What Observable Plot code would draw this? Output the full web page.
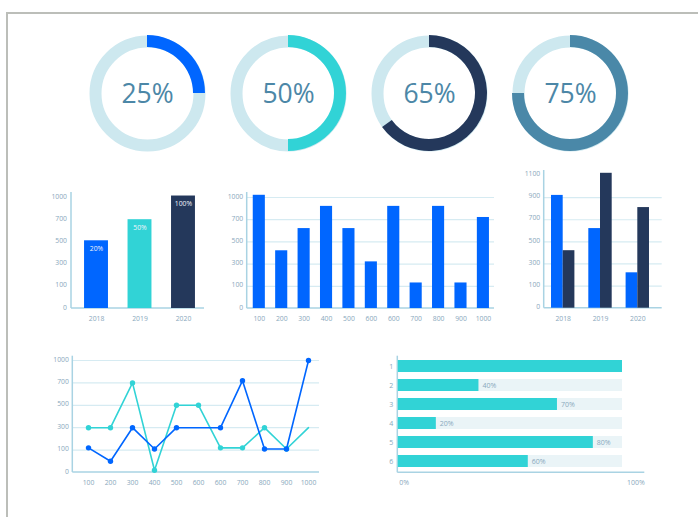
<!DOCTYPE html>
<html>
<head>
<meta charset="utf-8">
<script src="https://cdn.jsdelivr.net/npm/d3@7"></script>
<script src="https://cdn.jsdelivr.net/npm/@observablehq/plot@0.6"></script>
<style>
html, body { margin: 0; padding: 0; background: #fff; width: 698px; height: 517px; overflow: hidden; }
#page { position: relative; width: 698px; height: 517px; }
#border { position: absolute; left: 6px; top: 12px; width: 800px; height: 600px; border-top: 2.5px solid #bcbeb9; border-left: 2.5px solid #bcbeb9; }
.chart { position: absolute; }
.chart svg { display: block; }
</style>
</head>
<body>
<div id="page"><div id="border"></div></div>
<script>
// ---------------- data ----------------
const donutValues = [25, 50, 65, 75];

const yearLabels = ["2018", "2019", "2020"];
const yearValues = [510, 700, 1020];
const yearBarLabels = ["20%", "50%", "100%"];

const yTicks = [0, 100, 300, 500, 700, 1000];

const colLabels = ["100", "200", "300", "400", "500", "600", "600", "700", "800", "900", "1000"];
const colValues = [1030, 420, 620, 880, 620, 320, 880, 130, 880, 130, 730];

const groupYears = ["2018", "2019", "2020"];
const groupTicks = [0, 100, 300, 500, 700, 900, 1100];
const seriesBlue = [920, 620, 220];
const seriesNavy = [420, 1120, 810];

const lineXLabels = ["100", "200", "300", "400", "500", "600", "600", "700", "800", "900", "1000"];
const lineBlue = [120, 50, 300, 110, 300, 300, 300, 730, 110, 110, 1000];
const lineTeal = [300, 300, 700, 10, 500, 500, 120, 120, 300, 110, 300];
const blueHiddenDots = [5];
const tealHiddenDots = [10];

const hbarRows = ["1", "2", "3", "4", "5", "6"];
const hbarValues = [100, 36, 71, 17, 87, 58];
const hbarLabels = ["", "40%", "70%", "20%", "80%", "60%"];
const hbarMax = 100;
const hbarAxisLabels = ["0%", "100%"];

// ---------------- styles ----------------
const BLUE = "#0066ff", TEAL = "#31d3d6", NAVY = "#24385b", STEEL = "#4a88a8";
const AX = "#a9d3e3", GRID = "#d6ebf2", LBL = "#89a8bc";
const FONT = "'Open Sans', 'Noto Sans', sans-serif";
const baseStyle = { background: "transparent", color: LBL, fontFamily: FONT, fontSize: "7px", overflow: "visible" };

// The value axes have evenly spaced, non-uniform tick values: map values piecewise onto tick slots.
const slot = ticks => d3.scaleLinear().domain(ticks).range(d3.range(ticks.length));

const leftAxis = (index, scales, values, d) =>
  d3.create("svg:line")
    .attr("x1", d.marginLeft).attr("x2", d.marginLeft)
    .attr("y1", d.marginTop).attr("y2", d.height - d.marginBottom)
    .attr("stroke", AX).attr("stroke-width", 1.5).node();
const bottomAxis = (index, scales, values, d) =>
  d3.create("svg:line")
    .attr("x1", d.marginLeft).attr("x2", d.width - d.marginRight)
    .attr("y1", d.height - d.marginBottom).attr("y2", d.height - d.marginBottom)
    .attr("stroke", AX).attr("stroke-width", 1.5).node();

function place(svg, left, top, width) {
  const div = document.createElement("div");
  div.className = "chart";
  div.style.left = left + "px";
  div.style.top = top + "px";
  div.style.width = width + "px";
  div.appendChild(svg);
  document.getElementById("page").appendChild(div);
}

// ---------------- donuts ----------------
const angle = d3.scaleLinear().domain([0, 100]).range([0, 2 * Math.PI]);
const donutColor = d3.scaleOrdinal().domain(d3.range(4)).range([BLUE, TEAL, NAVY, STEEL]);
const donutArcs = (index, scales, values, d) => {
  const cy = (d.marginTop + d.height - d.marginBottom) / 2;
  const arc = d3.arc().innerRadius(46).outerRadius(58).startAngle(0);
  const g = d3.create("svg:g");
  donutValues.forEach((v, i) => {
    g.append("path")
      .attr("transform", `translate(${scales.x(i)},${cy})`)
      .attr("d", arc({ endAngle: angle(v) }))
      .attr("fill", donutColor(i));
  });
  return g.node();
};
place(Plot.plot({
  width: 698, height: 150, marginLeft: 0, marginRight: 0, marginTop: 0, marginBottom: 4,
  x: { type: "point", domain: d3.range(4), range: [146, 571], padding: 0, axis: null },
  style: baseStyle,
  marks: [
    Plot.dot(donutValues, { x: (d, i) => i, r: 52, stroke: "#cde8ef", strokeWidth: 12, fill: "none" }),
    donutArcs,
    Plot.text(donutValues, { x: (d, i) => i, text: d => d + "%", fontSize: 26.5, fill: "#4c87a7", dy: 1.5 })
  ]
}), 0, 20, 698);

// ---------------- chart 1: yearly bars ----------------
{
  const s = slot(yTicks);
  place(Plot.plot({
    width: 230, height: 170, marginLeft: 71, marginRight: 26, marginTop: 22, marginBottom: 32,
    x: { type: "band", domain: yearLabels, range: [71, 208], paddingInner: 0.45, paddingOuter: 0.3, round: false, axis: null },
    y: { domain: [0, yTicks.length - 1], range: [138, 27], axis: null },
    color: { domain: yearLabels, range: [BLUE, TEAL, NAVY] },
    style: baseStyle,
    marks: [
      leftAxis,
      bottomAxis,
      Plot.barY(yearLabels, { x: d => d, y1: 0, y2: (d, i) => s(yearValues[i]), fill: d => d }),
      Plot.text(yearLabels, { x: d => d, y: (d, i) => s(yearValues[i]), text: (d, i) => yearBarLabels[i], dy: 8, fill: "#eef4fb", fontSize: 6.8 }),
      Plot.text(yTicks, { y: d => s(d), text: d => String(d), frameAnchor: "left", dx: -4.5, dy: -1, textAnchor: "end", fill: LBL, fontSize: 6.8 }),
      Plot.text(yearLabels, { x: d => d, text: d => d, frameAnchor: "bottom", dy: 12, fill: LBL, fontSize: 6.8 })
    ]
  }), 0, 170, 230);
}

// ---------------- chart 2: 11 bars ----------------
{
  const s = slot(yTicks);
  place(Plot.plot({
    width: 285, height: 170, marginLeft: 26.7, marginRight: 11, marginTop: 22, marginBottom: 32,
    x: { type: "band", domain: d3.range(colLabels.length), range: [26.7, 275], paddingInner: 0.46, paddingOuter: 0.27, round: false, axis: null },
    y: { domain: [0, yTicks.length - 1], range: [138, 27], axis: null },
    style: baseStyle,
    marks: [
      Plot.ruleY(yTicks.filter(d => d > 0), { y: d => s(d), stroke: GRID, strokeWidth: 1.2 }),
      leftAxis,
      bottomAxis,
      Plot.barY(colValues, { x: (d, i) => i, y1: 0, y2: d => s(d), fill: BLUE }),
      Plot.text(yTicks, { y: d => s(d), text: d => String(d), frameAnchor: "left", dx: -4, dy: -1, textAnchor: "end", fill: LBL, fontSize: 6.8 }),
      Plot.text(colLabels, { x: (d, i) => i, text: d => d, frameAnchor: "bottom", dy: 12, fill: LBL, fontSize: 6.8 })
    ]
  }), 220, 170, 285);
}

// ---------------- chart 3: grouped bars ----------------
{
  const s = slot(groupTicks);
  place(Plot.plot({
    width: 190, height: 185, marginLeft: 38.7, marginRight: 33.3, marginTop: 15, marginBottom: 32.3,
    x: { type: "band", domain: groupYears, range: [38.7, 151.3], paddingInner: 0.373, paddingOuter: 0.196, round: false, axis: null },
    y: { domain: [0, groupTicks.length - 1], range: [152.7, 20], axis: null },
    style: baseStyle,
    marks: [
      Plot.ruleY(groupTicks.filter(d => d > 0 && d < 1100), { y: d => s(d), stroke: GRID, strokeWidth: 1.2 }),
      leftAxis,
      bottomAxis,
      Plot.barY(groupYears, { x: d => d, y1: 0, y2: (d, i) => s(seriesBlue[i]), fill: BLUE, insetRight: 11.7 }),
      Plot.barY(groupYears, { x: d => d, y1: 0, y2: (d, i) => s(seriesNavy[i]), fill: NAVY, insetLeft: 11.7 }),
      Plot.text(groupTicks, { y: d => s(d), text: d => String(d), frameAnchor: "left", dx: -4, dy: -1.5, textAnchor: "end", fill: LBL, fontSize: 6.8 }),
      Plot.text(groupYears, { x: d => d, text: d => d, frameAnchor: "bottom", dy: 12.3, fill: LBL, fontSize: 6.8 })
    ]
  }), 505, 155, 190);
}

// ---------------- chart 4: lines ----------------
{
  const s = slot(yTicks);
  place(Plot.plot({
    width: 300, height: 150, marginLeft: 42.3, marginRight: 11, marginTop: 10.7, marginBottom: 23,
    x: { type: "point", domain: d3.range(lineXLabels.length), range: [55.3, 281.7], padding: 0, axis: null },
    y: { domain: [0, yTicks.length - 1], range: [127, 15], axis: null },
    style: baseStyle,
    marks: [
      Plot.ruleY(yTicks.filter(d => d > 0), { y: d => s(d), stroke: GRID, strokeWidth: 1.2 }),
      leftAxis,
      bottomAxis,
      Plot.line(lineTeal, { x: (d, i) => i, y: d => s(d), stroke: TEAL, strokeWidth: 1.6 }),
      Plot.dot(lineTeal, { x: (d, i) => i, y: d => s(d), r: 2.7, fill: TEAL, filter: (d, i) => !tealHiddenDots.includes(i) }),
      Plot.line(lineBlue, { x: (d, i) => i, y: d => s(d), stroke: BLUE, strokeWidth: 1.6 }),
      Plot.dot(lineBlue, { x: (d, i) => i, y: d => s(d), r: 2.7, fill: BLUE, filter: (d, i) => !blueHiddenDots.includes(i) }),
      Plot.text(yTicks, { y: d => s(d), text: d => String(d), frameAnchor: "left", dx: -4, dy: -1, textAnchor: "end", fill: LBL, fontSize: 6.8 }),
      Plot.text(lineXLabels, { x: (d, i) => i, text: d => d, frameAnchor: "bottom", dy: 12.7, fill: LBL, fontSize: 6.8 })
    ]
  }), 30, 345, 300);
}

// ---------------- chart 5: horizontal progress bars ----------------
place(Plot.plot({
  width: 300, height: 150, marginLeft: 37.3, marginRight: 15.7, marginTop: 10.7, marginBottom: 22.7,
  x: { domain: [0, hbarMax], range: [37.7, 262], axis: null },
  y: { type: "band", domain: hbarRows, range: [15, 122], paddingInner: 0.368, paddingOuter: 0, round: false, axis: null },
  style: baseStyle,
  marks: [
    leftAxis,
    bottomAxis,
    Plot.barX(hbarRows, { y: d => d, x: () => hbarMax, fill: "#eaf4f7" }),
    Plot.barX(hbarValues, { y: (d, i) => hbarRows[i], x: d => d, fill: TEAL }),
    Plot.text(hbarValues, { y: (d, i) => hbarRows[i], x: d => d, text: (d, i) => hbarLabels[i], dx: 3.5, textAnchor: "start", fill: LBL, fontSize: 7 }),
    Plot.text(hbarRows, { y: d => d, text: d => d, frameAnchor: "left", dx: -4.5, textAnchor: "end", fill: LBL, fontSize: 7 }),
    Plot.text([hbarAxisLabels[0]], { text: d => d, frameAnchor: "bottom-left", dx: 1.5, dy: 12.4, textAnchor: "start", fill: LBL, fontSize: 7 }),
    Plot.text([hbarAxisLabels[1]], { text: d => d, frameAnchor: "bottom-right", dy: 12.4, textAnchor: "end", fill: LBL, fontSize: 7 })
  ]
}), 360, 345, 300);
</script>
</body>
</html>
